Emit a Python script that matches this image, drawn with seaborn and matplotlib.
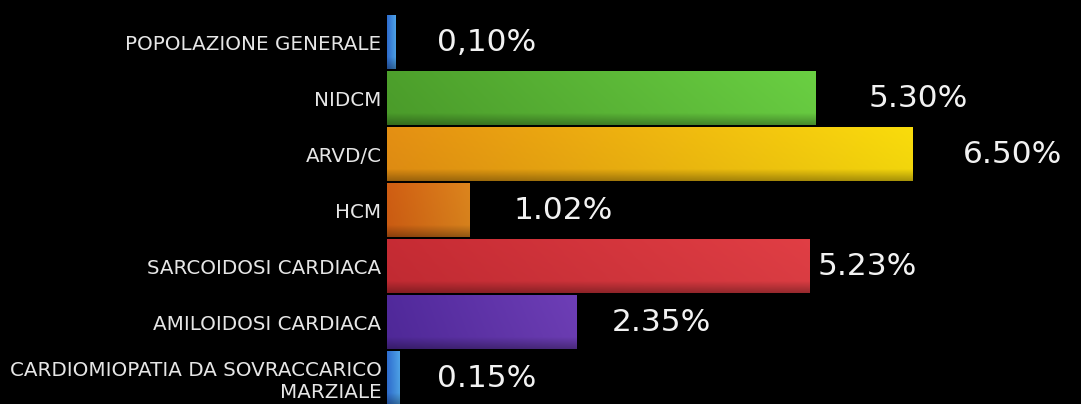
import numpy as np
import pandas as pd
import matplotlib
matplotlib.use("Agg")
import matplotlib.pyplot as plt
import seaborn as sns

categories = [
    "POPOLAZIONE GENERALE",
    "NIDCM",
    "ARVD/C",
    "HCM",
    "SARCOIDOSI CARDIACA",
    "AMILOIDOSI CARDIACA",
    "CARDIOMIOPATIA DA SOVRACCARICO\nMARZIALE",
]
values = [0.10, 5.30, 6.50, 1.02, 5.23, 2.35, 0.15]
value_labels = ["0,10%", "5.30%", "6.50%", "1.02%", "5.23%", "2.35%", "0.15%"]

# left / right colours of each bar's gradient
left_colors = ["#2c68c8", "#4a9a2a", "#dc8a12", "#c85a12", "#bf2a32", "#4e2896", "#2c68c8"]
right_colors = ["#4c9ee0", "#66c840", "#f0d40c", "#d4801c", "#d83c42", "#6a3cb0", "#4c9ee0"]
# horizontal gap (pixels) between bar end and its value label
label_gap_px = [42, 53, 51, 44, 8, 35, 38]

df = pd.DataFrame({"categoria": categories, "valore": values})

sns.set_theme(style="dark")
plt.rcParams["font.family"] = ["DejaVu Sans"]

fig = plt.figure(figsize=(10.81, 4.04), dpi=100, facecolor="black")
ax = fig.add_axes([387 / 1081, 0.0, 1 - 387 / 1081, 1.0])
ax.set_facecolor("black")

sns.barplot(data=df, x="valore", y="categoria", hue="categoria",
            palette=left_colors, orient="h", width=0.96, legend=False,
            ax=ax, saturation=1, linewidth=0, edgecolor="none")

def to_rgb(c):
    return np.array(matplotlib.colors.to_rgb(c))

for patch, c0, c1 in zip(ax.patches, left_colors, right_colors):
    x0, y0 = patch.get_x(), patch.get_y()
    w, h = patch.get_width(), patch.get_height()
    t = np.linspace(0, 1, 256)
    row = (1 - t)[:, None] * to_rgb(c0) + t[:, None] * to_rgb(c1)
    v = np.linspace(0, 1, 64)
    shade = 1.04 - 0.04 * v - 0.30 * np.clip((v - 0.78) / 0.22, 0, 1)
    img = np.clip(row[None, :, :] * shade[:, None, None], 0, 1)
    im = ax.imshow(img, extent=(x0, x0 + w, y0 + h, y0), aspect="auto",
                   interpolation="bilinear", zorder=patch.get_zorder() + 0.1)
    im.set_clip_path(patch)

for i, (val, txt, gap) in enumerate(zip(values, value_labels, label_gap_px)):
    ax.annotate(txt, xy=(val, i), xytext=(gap * 0.72, 0), textcoords="offset points",
                ha="left", va="center", color="#f2f2f2", fontsize=22.5,
                zorder=5)

ax.set_xlim(0, 8.59)
ax.set_ylim(6.46, -0.75)
ax.set_xlabel("")
ax.set_ylabel("")
ax.set_xticks([])
ax.tick_params(axis="y", length=0, pad=4, colors="#e6e6e6", labelsize=14.3)
for lbl in ax.get_yticklabels():
    lbl.set_multialignment("right")
for s in ax.spines.values():
    s.set_visible(False)
ax.grid(False)

fig.savefig("out.png", dpi=100, facecolor="black")
